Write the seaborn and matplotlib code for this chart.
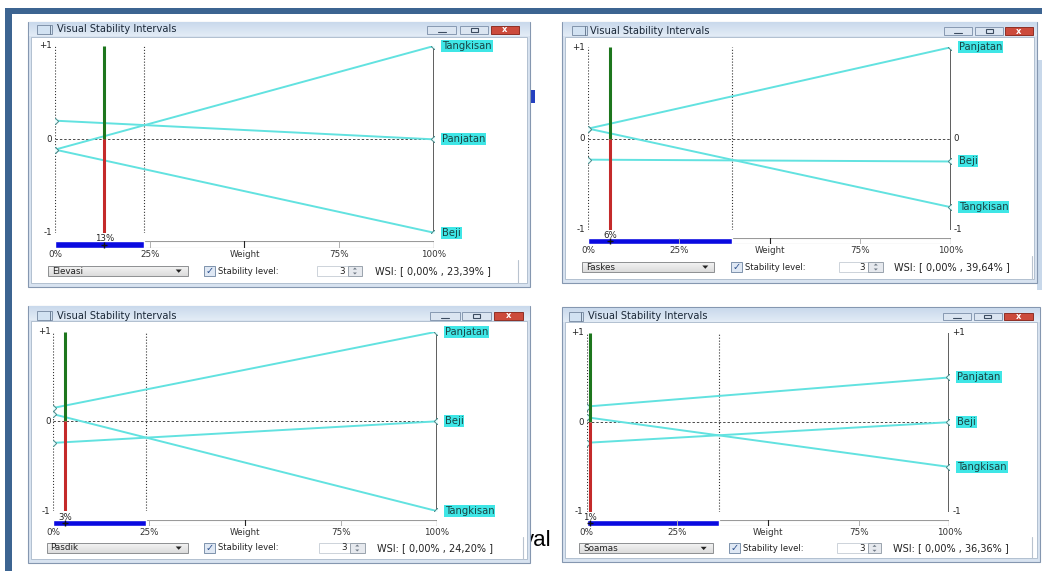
import numpy as np
import pandas as pd
import matplotlib
matplotlib.use('Agg')
import matplotlib.pyplot as plt
from matplotlib.patches import Rectangle, Polygon
from matplotlib.colors import LinearSegmentedColormap
import seaborn as sns

W, H = 1042, 571

criteria = ['Elevasi', 'Faskes', 'Pasdik', 'Soamas']
current_weight = [13, 6, 3, 1]
wsi_low = [0.00, 0.00, 0.00, 0.00]
wsi_high = [23.39, 39.64, 24.20, 36.36]
stability_level = [3, 3, 3, 3]

alternatives = [
    ['Tangkisan', 'Panjatan', 'Beji'],
    ['Panjatan', 'Beji', 'Tangkisan'],
    ['Panjatan', 'Beji', 'Tangkisan'],
    ['Panjatan', 'Beji', 'Tangkisan'],
]
score_at_0 = [
    [-0.11, 0.20, -0.11],
    [0.11, -0.23, 0.11],
    [0.15, -0.24, 0.08],
    [0.175, -0.23, 0.055],
]
score_at_100 = [
    [1.00, 0.00, -1.00],
    [1.00, -0.25, -0.75],
    [1.00, 0.00, -1.00],
    [0.50, 0.00, -0.50],
]
weight_ticks = [0, 25, 50, 75, 100]
weight_tick_labels = ['0%', '25%', 'Weight', '75%', '100%']
scale_ticks = [1, 0, -1]
scale_tick_labels = ['+1', '0', '-1']

# window geometry in pixels (x0, y0, x1, y1), measured on the screenshot
layouts = [
    dict(win=(27.5, 21.7, 530, 287), plot=(55.1, 46, 433.9, 232.7), bar=(241.5, 248), cy=271,
         combo=(48.2, 187.7), chk=204, spin=(316.8, 347.8, 362), wsi=374.7, sep=518,
         btn=[(427, 456), (460, 488), (491, 519)], by=(26, 34), tx=57, ty=29, icon=(37, 52)),
    dict(win=(561.7, 21.7, 1037, 283), plot=(588.3, 47.3, 950.7, 230), bar=(237.5, 244), cy=267,
         combo=(581.7, 714.3), chk=730.7, spin=(839, 868.3, 883.3), wsi=894.3, sep=1032,
         btn=[(944, 972), (975, 1003), (1005, 1033)], by=(27, 35), tx=590, ty=30.5, icon=(571.7, 586.7)),
    dict(win=(27.5, 306, 530, 563.3), plot=(53.4, 331.7, 436.6, 511), bar=(520, 526), cy=548,
         combo=(46.5, 187.7), chk=204, spin=(318.5, 349.5, 365), wsi=377, sep=522.7,
         btn=[(430, 460), (462, 491), (494, 523)], by=(312, 320), tx=57, ty=315.7, icon=(37, 52)),
    dict(win=(561.7, 307.3, 1040, 561.7), plot=(586.7, 332.7, 949.3, 511.7), bar=(519.8, 526), cy=548.3,
         combo=(579.3, 712.7), chk=729.3, spin=(836.7, 868.3, 880.7), wsi=892.7, sep=1031.7,
         btn=[(943.3, 971), (974, 1001.7), (1004, 1032.7)], by=(312.7, 320), tx=588, ty=316, icon=(569, 583)),
]

CYAN_LINE = '#62e2e0'
CYAN_BOX = '#3fe6e6'
LABEL_TXT = '#1a4444'

sns.set_theme(style='white')
plt.rcParams['font.family'] = ['DejaVu Sans']

fig = plt.figure(figsize=(W / 100, H / 100), dpi=100)
fig.patch.set_facecolor('white')
bg = fig.add_axes([0, 0, 1, 1])
bg.set_autoscale_on(False)
bg.set_xlim(0, W)
bg.set_ylim(H, 0)
bg.axis('off')

title_cmap = LinearSegmentedColormap.from_list('tb', ['#c9d9ec', '#e3ecf6'])
combo_cmap = LinearSegmentedColormap.from_list('cb', ['#f4f4f4', '#dcdcdc'])
grad = np.linspace(0, 1, 32).reshape(-1, 1)


def box(x0, y0, x1, y1, **kw):
    bg.add_patch(Rectangle((x0, y0), x1 - x0, y1 - y0, **kw))


def px_axes(x0, y0, x1, y1):
    return fig.add_axes([x0 / W, 1 - y1 / H, (x1 - x0) / W, (y1 - y0) / H])


# blue frame of the document page
box(5, 8, W, 14, fc='#3c6491', ec='none', zorder=1)
box(5, 8, 12, H, fc='#3c6491', ec='none', zorder=1)
box(1037, 60, W, 290, fc='#c8d8ea', ec='none', zorder=1)
box(530, 90, 535, 103, fc='#2440c0', ec='none', zorder=1)
bg.text(523, 541, 'val', fontsize=16, family=['Liberation Sans', 'DejaVu Sans'],
        color='black', ha='left', va='center', zorder=1)

for i, L in enumerate(layouts):
    x0, y0, x1, y1 = L['win']
    # window frame, title bar and client area
    box(x0, y0, x1, y1, fc='#d8e3f0', ec='#8597b0', lw=0.8, zorder=2)
    bg.imshow(grad, extent=(x0 + 1, x1 - 1, y0 + 14.5, y0 + 1), cmap=title_cmap,
              aspect='auto', zorder=2.1)
    box(x0 + 3, y0 + 15, x1 - 3, y1 - 4, fc='white', ec='#a9b8ca', lw=0.6, zorder=2.2)
    ty = L['ty']
    ix0, ix1 = L['icon']
    box(ix0, ty - 4.5, ix1, ty + 4.5, fc='#d2e2f2', ec='#8193aa', lw=0.7, zorder=2.3)
    bg.plot([ix1 - 2, ix1 - 2], [ty - 4.5, ty + 4.5], color='#6a7c93', lw=0.7, zorder=2.4)
    bg.text(L['tx'], ty, 'Visual Stability Intervals', fontsize=7.1, color='#1b2838',
            ha='left', va='center', zorder=2.4)
    by0, by1 = L['by']
    for k, (bx0, bx1) in enumerate(L['btn']):
        if k < 2:
            box(bx0, by0, bx1, by1, fc='#dbe5f1', ec='#8799b2', lw=0.7, zorder=2.3)
            mx = (bx0 + bx1) / 2
            if k == 0:
                bg.plot([mx - 4, mx + 4], [by1 - 2.5, by1 - 2.5], color='#3c4c60', lw=0.8, zorder=2.4)
            else:
                box(mx - 3.5, by0 + 2, mx + 3.5, by1 - 2, fc='none', ec='#3c4c60', lw=0.8, zorder=2.4)
        else:
            box(bx0, by0, bx1, by1, fc='#cc4b3c', ec='#8e2f25', lw=0.7, zorder=2.3)
            bg.text((bx0 + bx1) / 2, (by0 + by1) / 2, 'x', fontsize=6, color='white',
                    weight='bold', ha='center', va='center', zorder=2.4)

    # controls row
    cy = L['cy']
    c0, c1 = L['combo']
    bg.imshow(grad, extent=(c0, c1, cy + 5, cy - 5), cmap=combo_cmap, aspect='auto', zorder=2.3)
    box(c0, cy - 5, c1, cy + 5, fc='none', ec='#8d8f91', lw=0.7, zorder=2.4)
    bg.text(c0 + 4, cy, criteria[i], fontsize=6.3, color='#222222', ha='left', va='center', zorder=2.5)
    bg.add_patch(Polygon([[c1 - 12, cy - 1.5], [c1 - 6, cy - 1.5], [c1 - 9, cy + 1.8]],
                         closed=True, fc='#222222', ec='none', zorder=2.5))
    ck = L['chk']
    box(ck, cy - 5, ck + 11, cy + 5, fc='#dfe8f4', ec='#7e92ac', lw=0.7, zorder=2.4)
    bg.text(ck + 5.5, cy, '\u2713', fontsize=7, color='#2b4f8c', ha='center', va='center', zorder=2.5)
    bg.text(ck + 14, cy, 'Stability level:', fontsize=6.1, color='#222222', ha='left', va='center', zorder=2.5)
    s0, s1, s2 = L['spin']
    box(s0, cy - 5, s1, cy + 5, fc='white', ec='#cdd3da', lw=0.7, zorder=2.4)
    bg.text(s1 - 3, cy, str(stability_level[i]), fontsize=6.3, color='#222222', ha='right', va='center', zorder=2.5)
    box(s1, cy - 5, s2, cy + 5, fc='#e6e9ee', ec='#9aa3ad', lw=0.7, zorder=2.4)
    sm = (s1 + s2) / 2
    bg.add_patch(Polygon([[sm - 2, cy - 1.5], [sm + 2, cy - 1.5], [sm, cy - 3.5]], fc='#707a86', ec='none', zorder=2.5))
    bg.add_patch(Polygon([[sm - 2, cy + 1.5], [sm + 2, cy + 1.5], [sm, cy + 3.5]], fc='#707a86', ec='none', zorder=2.5))
    wsi_txt = 'WSI: [ {:.2f}% , {:.2f}% ]'.format(wsi_low[i], wsi_high[i]).replace('.', ',')
    bg.text(L['wsi'], cy, wsi_txt, fontsize=7, color='#222222', ha='left', va='center', zorder=2.5)
    bg.plot([L['sep'], L['sep']], [cy - 11, y1 - 4], color='#b9c3cf', lw=0.8, zorder=2.5)

    # sensitivity lines
    px0, py0, px1, py1 = L['plot']
    ax = px_axes(px0, py0, px1, py1)
    ax.set_zorder(3)
    ax.patch.set_alpha(0)
    rows = []
    for name, a, b in zip(alternatives[i], score_at_0[i], score_at_100[i]):
        rows.append({'alt': name, 'weight': 0, 'score': a})
        rows.append({'alt': name, 'weight': 100, 'score': b})
    df = pd.DataFrame(rows)

    ax.vlines(0, -1, 1, colors='#333333', linestyles=':', lw=0.8)
    ax.vlines(wsi_high[i], -1, 1, colors='#333333', linestyles=':', lw=0.8)
    ax.vlines(100, -1, 1, colors='#333333', lw=1.1)
    ax.hlines(0, 0, 100, colors='#4a4a4a', linestyles=(0, (2.5, 2)), lw=0.7)
    sns.lineplot(data=df, x='weight', y='score', units='alt', estimator=None, color=CYAN_LINE,
                 linewidth=1.4, marker='D', markersize=3.2, markerfacecolor='#eaffff',
                 markeredgecolor='#4c8a8a', markeredgewidth=0.7, legend=False, ax=ax)
    w = current_weight[i]
    ax.vlines(w, 0, 1, colors='#1d761d', lw=2.2, zorder=4)
    ax.vlines(w, -1, 0, colors='#c42a2a', lw=2.2, zorder=4)
    ax.set_xlim(0, 100)
    ax.set_ylim(-1, 1)
    ax.axis('off')

    for v, t in zip(scale_ticks, scale_tick_labels):
        ax.annotate(t, (0, v), xytext=(-3, 0), textcoords='offset pixels', ha='right', va='center',
                    fontsize=6.2, color='#222222', annotation_clip=False)
        if not any(abs(e - v) < 0.05 for e in score_at_100[i]):
            ax.annotate(t, (100, v), xytext=(3, 0), textcoords='offset pixels', ha='left',
                        va='center', fontsize=6.2, color='#222222', annotation_clip=False)
    for name, b in zip(alternatives[i], score_at_100[i]):
        ax.annotate(name, (100, b), xytext=(8, 0), textcoords='offset pixels', ha='left',
                    va='center', fontsize=7.2, color=LABEL_TXT, annotation_clip=False,
                    bbox=dict(boxstyle='square,pad=0.1', fc=CYAN_BOX, ec='none'))
    ax.annotate(f'{w}%', (w, -1), xytext=(0, -6), textcoords='offset pixels', ha='center',
                va='center', fontsize=6.2, color='#222222', annotation_clip=False)

    # weight bar
    b0, b1 = L['bar']
    wax = px_axes(px0, b0, px1, b1)
    wax.set_zorder(3)
    wax.patch.set_alpha(0)
    wax.barh(0, 100, height=1, color='white', edgecolor='#9a9a9a', linewidth=0.8)
    wax.barh(0, wsi_high[i] - wsi_low[i], left=wsi_low[i], height=1, color='#0a0ae0')
    wax.vlines([25, 75], -0.5, 0.5, colors='#b0b0b0', lw=0.7)
    wax.vlines([50, 100], -0.5, 0.9, colors='#222222', lw=0.8)
    wax.plot([w], [0], marker='+', color='#111111', markersize=5, mew=1)
    wax.set_xlim(0, 100)
    wax.set_ylim(-0.5, 0.5)
    wax.set_yticks([])
    wax.set_xticks(weight_ticks, weight_tick_labels)
    wax.tick_params(axis='x', length=0, pad=1.2, labelsize=6.3, labelcolor='#333333')
    for s in wax.spines.values():
        s.set_visible(False)

bg.set_xlim(0, W)
bg.set_ylim(H, 0)
fig.savefig('out.png', dpi=100, facecolor='white')
